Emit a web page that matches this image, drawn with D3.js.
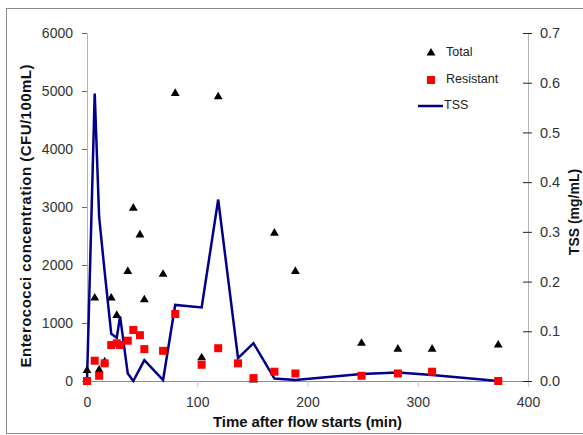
<!DOCTYPE html>
<html>
<head>
<meta charset="utf-8">
<script src="https://cdn.jsdelivr.net/npm/d3@7"></script>
<style>
  body { margin: 0; background: #fff; }
  svg { font-family: "Liberation Sans", Arial, sans-serif; }
</style>
</head>
<body>
<svg id="chart"></svg>
<script>
// Total enterococci (CFU/100mL)
const totalTime = [0, 7, 11, 16, 22, 27, 37, 42, 48, 52, 69, 80, 104, 119, 151, 170, 189, 249, 282, 313, 373];
const totalConc = [180, 1430, 190, 330, 1430, 1130, 1890, 2980, 2520, 1400, 1840, 4960, 400, 4900, 20, 2550, 1890, 650, 550, 550, 620];

// Resistant enterococci (CFU/100mL)
const resistTime = [0, 7, 11, 16, 22, 27, 30, 37, 42, 48, 52, 69, 80, 104, 119, 137, 151, 170, 189, 249, 282, 313, 373];
const resistConc = [0, 350, 90, 305, 620, 650, 620, 695, 880, 790, 550, 520, 1155, 280, 565, 305, 50, 160, 130, 90, 130, 160, 0];

// TSS (mg/mL)
const tssTime = [0, 7, 11, 16, 22, 27, 30, 37, 42, 52, 69, 80, 104, 119, 137, 151, 170, 189, 249, 282, 313, 373];
const tssVal = [0, 0.578, 0.33, 0.22, 0.095, 0.087, 0.13, 0.015, 0, 0.042, 0.002, 0.153, 0.148, 0.365, 0.046, 0.076, 0.005, 0.002, 0.014, 0.017, 0.012, 0];

const xTicks = [0, 100, 200, 300, 400];
const yTicks = [0, 1000, 2000, 3000, 4000, 5000, 6000];
const y2Ticks = [0, 0.1, 0.2, 0.3, 0.4, 0.5, 0.6, 0.7];

const W = 583, H = 435;
const plotL = 87, plotR = 528, plotT = 33, plotB = 381;

const svg = d3.select('#chart').attr('width', W).attr('height', H);

// chart frame
svg.append('rect')
    .attr('x', 6.5).attr('y', 8.5)
    .attr('width', W - 6).attr('height', 425)
    .attr('fill', '#fff').attr('stroke', '#8c8c8c');

const x = d3.scaleLinear().domain([0, 400]).range([plotL, plotR]);
const y = d3.scaleLinear().domain([0, 6000]).range([plotB, plotT]);
const y2 = d3.scaleLinear().domain([0, 0.7]).range([plotB, plotT]);

// x axis
const gx = svg.append('g')
    .attr('transform', `translate(0,${plotB})`)
    .call(d3.axisBottom(x).tickValues(xTicks).tickSize(6).tickPadding(10).tickSizeOuter(0));
gx.select('.domain').attr('stroke', '#8c8c8c');
gx.selectAll('.tick line').attr('stroke', '#c8c8c8');
gx.selectAll('.tick text').attr('font-size', 14).attr('fill', '#333');

// left axis
const gy = svg.append('g')
    .attr('transform', `translate(${plotL},0)`)
    .call(d3.axisLeft(y).tickValues(yTicks).tickFormat(d3.format('d')).tickSize(5).tickPadding(9).tickSizeOuter(0));
gy.select('.domain').attr('stroke', '#b4b4b4');
gy.selectAll('.tick line').attr('stroke', '#666');
gy.selectAll('.tick text').attr('font-size', 14).attr('fill', '#333');

// right axis, cross ticks
const gy2 = svg.append('g')
    .attr('transform', `translate(${plotR},0)`)
    .call(d3.axisRight(y2).tickValues(y2Ticks).tickFormat(d3.format('.1f')).tickSize(4).tickPadding(8).tickSizeOuter(0));
gy2.select('.domain').attr('stroke', '#b4b4b4');
gy2.selectAll('.tick line').attr('x1', -5).attr('x2', 4).attr('stroke', '#222');
gy2.selectAll('.tick text').attr('font-size', 14.5).attr('fill', '#333');

// axis titles
svg.append('text')
    .attr('transform', 'translate(27,216) rotate(-90)')
    .attr('text-anchor', 'middle').attr('dominant-baseline', 'middle')
    .attr('font-size', 15).attr('font-weight', 'bold').attr('fill', '#111')
    .attr('textLength', 303).attr('lengthAdjust', 'spacing')
    .text('Enterococci concentration (CFU/100mL)');

svg.append('text')
    .attr('transform', 'translate(575,212) rotate(-90)')
    .attr('text-anchor', 'middle').attr('dominant-baseline', 'middle')
    .attr('font-size', 14).attr('font-weight', 'bold').attr('fill', '#111')
    .text('TSS (mg/mL)');

svg.append('text')
    .attr('x', 307.5).attr('y', 423)
    .attr('text-anchor', 'middle').attr('dominant-baseline', 'middle')
    .attr('font-size', 15).attr('font-weight', 'bold').attr('fill', '#111')
    .attr('textLength', 189).attr('lengthAdjust', 'spacing')
    .text('Time after flow starts (min)');

// TSS line
const line = d3.line().x(i => x(tssTime[i])).y(i => y2(tssVal[i]));
svg.append('path')
    .attr('d', line(d3.range(tssTime.length)))
    .attr('fill', 'none').attr('stroke', '#00008b').attr('stroke-width', 2.5)
    .attr('stroke-linejoin', 'miter');

// markers
const tri = d3.symbol().type(d3.symbolTriangle).size(34);
svg.append('g').selectAll('path')
    .data(d3.range(totalTime.length))
    .join('path')
    .attr('d', tri)
    .attr('transform', i => `translate(${x(totalTime[i])},${y(totalConc[i])})`)
    .attr('fill', '#000');

svg.append('g').selectAll('rect')
    .data(d3.range(resistTime.length))
    .join('rect')
    .attr('x', i => x(resistTime[i]) - 4)
    .attr('y', i => y(resistConc[i]) - 4)
    .attr('width', 8).attr('height', 8)
    .attr('fill', '#ff0000');

// legend
const lg = svg.append('g').attr('font-size', 12.5).attr('fill', '#222');
lg.append('path').attr('d', tri).attr('transform', 'translate(431,53)').attr('fill', '#000');
lg.append('text').attr('x', 446).attr('y', 53).attr('dominant-baseline', 'middle').text('Total');
lg.append('rect').attr('x', 427).attr('y', 76).attr('width', 8).attr('height', 8).attr('fill', '#ff0000');
lg.append('text').attr('x', 446).attr('y', 80).attr('dominant-baseline', 'middle').text('Resistant');
lg.append('line').attr('x1', 418).attr('x2', 443).attr('y1', 106).attr('y2', 106)
    .attr('stroke', '#00008b').attr('stroke-width', 2.5);
lg.append('text').attr('x', 444).attr('y', 106).attr('dominant-baseline', 'middle').text('TSS');
</script>
</body>
</html>
